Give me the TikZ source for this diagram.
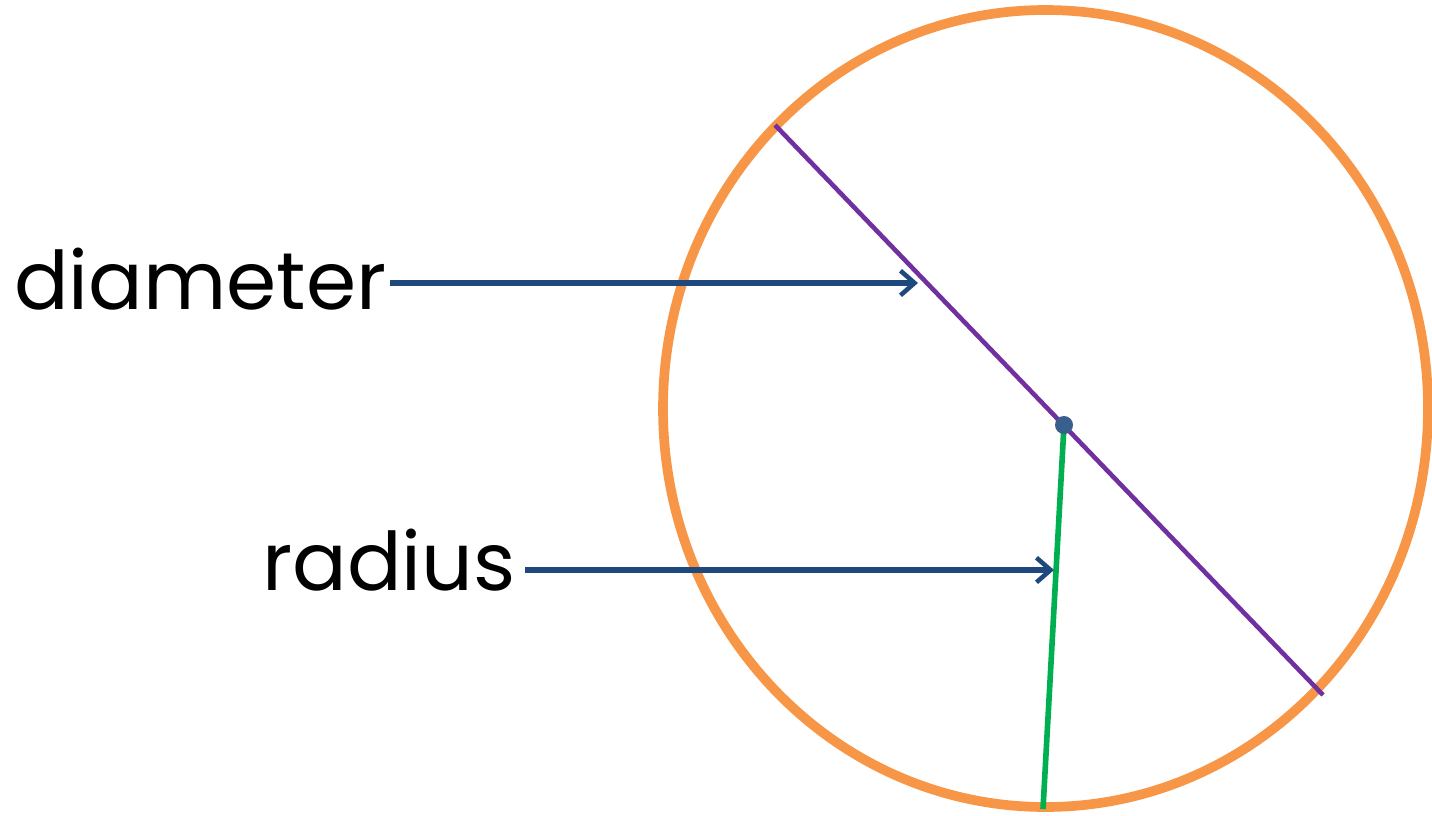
\documentclass[tikz,border=0pt]{standalone}
\usepackage{fontspec}
\setmainfont{Poppins}
\usepackage{tikz}
\usetikzlibrary{arrows.meta,positioning}
\definecolor{rimorange}{HTML}{F79646}
\definecolor{diampurple}{HTML}{7030A0}
\definecolor{radgreen}{HTML}{00B050}
\definecolor{pointerblue}{HTML}{1F497D}
\definecolor{dotblue}{HTML}{3A5F8C}
\tikzset{
  pointer/.style={draw=pointerblue,line width=3.2pt,-{Straight Barb[length=8pt,width=14pt,line width=2.6pt]}},
  label/.style={font=\fontsize{46}{52}\selectfont,inner sep=0pt,anchor=base west}
}
\begin{document}
\begin{tikzpicture}[x=0.02cm,y=-0.02cm]
\useasboundingbox (0,0) rectangle (1432,815);

% circle and its chords
\draw[rimorange,line width=5.5pt] (1045.5,408.5) ellipse [x radius=382.5,y radius=398.5];
\coordinate (dtop) at (775,125);
\coordinate (dbot) at (1323,695);
\coordinate (centre) at (1064,425);
\coordinate (rend) at (1043,809);
\draw[diampurple,line width=2.6pt] (dtop) -- (dbot);
\draw[radgreen,line width=3.2pt] (centre) -- (rend);
\fill[dotblue] (centre) circle (9);

% labels
\node[label] (diamtext) at (14,309) {diameter};
\node[label] (radtext) at (262,590) {radius};
\coordinate (diamtail) at (390,283);
\coordinate (diamhit) at (918,283);
\coordinate (radtail) at (525,570);
\coordinate (radhit) at (1054,570);
\draw[pointer] (diamtail) -- (diamhit);
\draw[pointer] (radtail) -- (radhit);
\end{tikzpicture}
\end{document}
